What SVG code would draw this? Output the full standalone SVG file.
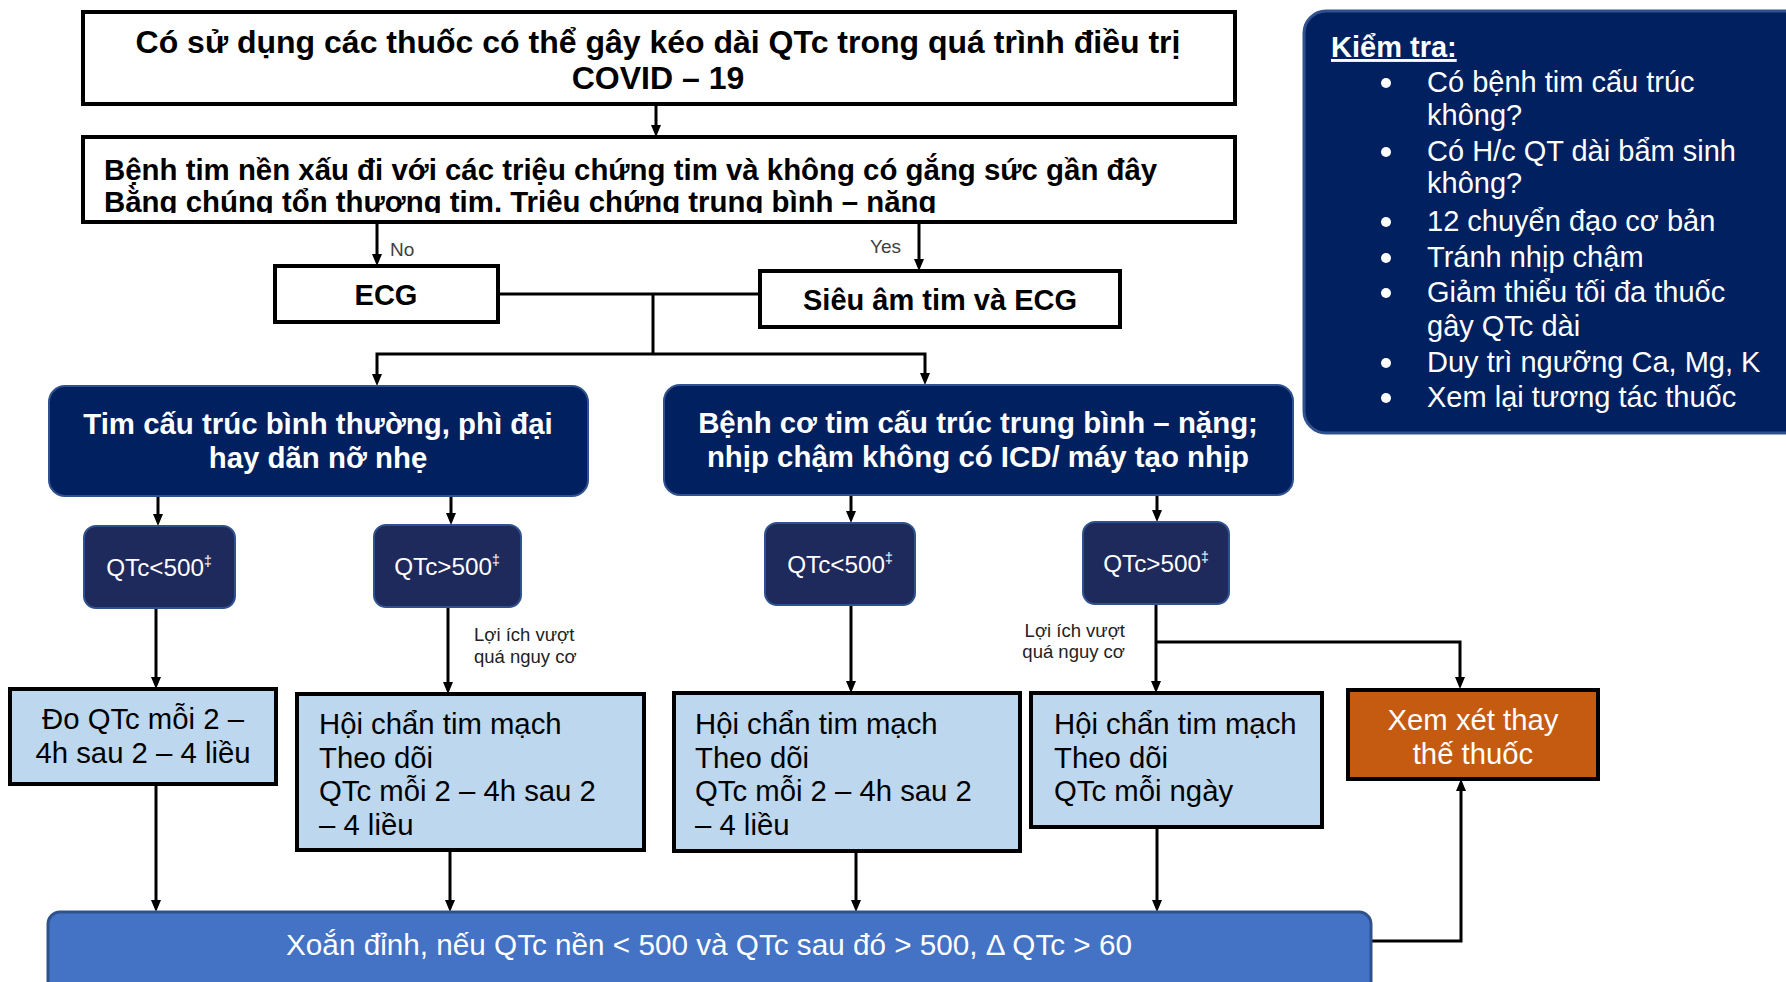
<svg xmlns="http://www.w3.org/2000/svg" width="1786" height="982" viewBox="0 0 1786 982">
<defs>
<style>
.bx{fill:#fff;stroke:#000;stroke-width:4}
.lb{fill:#BDD7EE;stroke:#000;stroke-width:4}
.nv{fill:#002060;stroke:#2F528F;stroke-width:2}
.qt{fill:#1F2A5C;stroke:#2F528F;stroke-width:2}
.tb{font-family:"Liberation Sans",Arial,sans-serif;font-weight:bold;fill:#000}
.tw{font-family:"Liberation Sans",Arial,sans-serif;font-weight:bold;fill:#fff;font-size:29.4px;text-anchor:middle}
.tr{font-family:"Liberation Sans",Arial,sans-serif;fill:#000;font-size:29.3px}
.tq{font-family:"Liberation Sans",Arial,sans-serif;fill:#fff;font-size:24.3px;text-anchor:middle}
.sm{font-family:"Liberation Sans",Arial,sans-serif;fill:#222;font-size:18.5px}
.yn{font-family:"Liberation Sans",Arial,sans-serif;fill:#404040;font-size:19px}
.kt{font-family:"Liberation Sans",Arial,sans-serif;fill:#fff;font-size:29px}
.cn{fill:none;stroke:#000;stroke-width:3}
</style>
<marker id="ah" viewBox="0 0 12 10" refX="6" refY="5" markerWidth="12" markerHeight="10" markerUnits="userSpaceOnUse" orient="auto">
<path d="M0,0 L12,5 L0,10 z" fill="#000"/>
</marker>
<clipPath id="c2"><rect x="85" y="139" width="1148" height="74"/></clipPath>
</defs>

<g id="connectors">
<path class="cn" d="M656,105 V131" marker-end="url(#ah)"/>
<path class="cn" d="M377,222 V260" marker-end="url(#ah)"/>
<path class="cn" d="M919,222 V265" marker-end="url(#ah)"/>
<path class="cn" d="M498,294 H760"/>
<path class="cn" d="M653,294 V354"/>
<path class="cn" d="M653,354 H377 V380" marker-end="url(#ah)"/>
<path class="cn" d="M653,354 H925 V379" marker-end="url(#ah)"/>
<path class="cn" d="M158,496 V520" marker-end="url(#ah)"/>
<path class="cn" d="M451,496 V519" marker-end="url(#ah)"/>
<path class="cn" d="M851,495 V517" marker-end="url(#ah)"/>
<path class="cn" d="M1157,495 V516" marker-end="url(#ah)"/>
<path class="cn" d="M156,608 V683" marker-end="url(#ah)"/>
<path class="cn" d="M448,607 V688" marker-end="url(#ah)"/>
<path class="cn" d="M851,605 V687" marker-end="url(#ah)"/>
<path class="cn" d="M1156,604 V687" marker-end="url(#ah)"/>
<path class="cn" d="M1156,642 H1460 V683" marker-end="url(#ah)"/>
<path class="cn" d="M156,784 V906" marker-end="url(#ah)"/>
<path class="cn" d="M450,850 V906" marker-end="url(#ah)"/>
<path class="cn" d="M856,851 V906" marker-end="url(#ah)"/>
<path class="cn" d="M1157,827 V906" marker-end="url(#ah)"/>
<path class="cn" d="M1371,941 H1461 V785" marker-end="url(#ah)"/>
<text class="yn" x="390" y="256">No</text>
<text class="yn" x="901" y="253" text-anchor="end">Yes</text>
<text class="sm" x="474" y="641">Lợi ích vượt</text>
<text class="sm" x="474" y="663">quá nguy cơ</text>
<text class="sm" x="1125" y="637" text-anchor="end">Lợi ích vượt</text>
<text class="sm" x="1125" y="658" text-anchor="end">quá nguy cơ</text>
</g>

<g id="n-start">
<rect class="bx" x="83" y="12" width="1152" height="92"/>
<text class="tb" font-size="32" text-anchor="middle" x="658" y="53">Có sử dụng các thuốc có thể gây kéo dài QTc trong quá trình điều trị</text>
<text class="tb" font-size="32" text-anchor="middle" x="658" y="89">COVID – 19</text>
</g>

<g id="n-symptoms">
<rect class="bx" x="83" y="137" width="1152" height="85"/>
<g clip-path="url(#c2)">
<text class="tb" font-size="29.4" x="104" y="180">Bệnh tim nền xấu đi với các triệu chứng tim và không có gắng sức gần đây</text>
<text class="tb" font-size="29.4" x="104" y="212">Bằng chúng tổn thương tim. Triệu chứng trung bình – nặng</text>
</g>
</g>

<g id="n-ecg">
<rect class="bx" x="275" y="266" width="223" height="56"/>
<text class="tb" font-size="29" text-anchor="middle" x="386" y="305">ECG</text>
</g>

<g id="n-echo">
<rect class="bx" x="760" y="271" width="360" height="56"/>
<text class="tb" font-size="29" text-anchor="middle" x="940" y="310">Siêu âm tim và ECG</text>
</g>

<g id="n-normal">
<rect class="nv" x="49" y="386" width="539" height="110" rx="16"/>
<text class="tw" x="318" y="434">Tim cấu trúc bình thường, phì đại</text>
<text class="tw" x="318" y="468">hay dãn nỡ nhẹ</text>
</g>

<g id="n-disease">
<rect class="nv" x="664" y="385" width="629" height="110" rx="16"/>
<text class="tw" x="978" y="433">Bệnh cơ tim cấu trúc trung bình – nặng;</text>
<text class="tw" x="978" y="467">nhịp chậm không có ICD/ máy tạo nhịp</text>
</g>

<g id="n-q1">
<rect class="qt" x="84" y="526" width="151" height="82" rx="12"/>
<text class="tq" x="159" y="576">QTc&lt;500<tspan font-size="14" dy="-10">‡</tspan></text>
</g>
<g id="n-q2">
<rect class="qt" x="374" y="525" width="147" height="82" rx="12"/>
<text class="tq" x="447" y="575">QTc&gt;500<tspan font-size="14" dy="-10">‡</tspan></text>
</g>
<g id="n-q3">
<rect class="qt" x="765" y="523" width="150" height="82" rx="12"/>
<text class="tq" x="840" y="573">QTc&lt;500<tspan font-size="14" dy="-10">‡</tspan></text>
</g>
<g id="n-q4">
<rect class="qt" x="1083" y="522" width="146" height="82" rx="12"/>
<text class="tq" x="1156" y="572">QTc&gt;500<tspan font-size="14" dy="-10">‡</tspan></text>
</g>

<g id="n-r1">
<rect class="lb" x="10" y="689" width="266" height="95"/>
<text class="tr" text-anchor="middle" x="143" y="729">Đo QTc mỗi 2 –</text>
<text class="tr" text-anchor="middle" x="143" y="763">4h sau 2 – 4 liều</text>
</g>

<g id="n-r2">
<rect class="lb" x="297" y="694" width="347" height="156"/>
<text class="tr" x="319" y="734">Hội chẩn tim mạch</text>
<text class="tr" x="319" y="768">Theo dõi</text>
<text class="tr" x="319" y="801">QTc mỗi 2 – 4h sau 2</text>
<text class="tr" x="319" y="835">– 4 liều</text>
</g>

<g id="n-r3">
<rect class="lb" x="674" y="693" width="346" height="158"/>
<text class="tr" x="695" y="734">Hội chẩn tim mạch</text>
<text class="tr" x="695" y="768">Theo dõi</text>
<text class="tr" x="695" y="801">QTc mỗi 2 – 4h sau 2</text>
<text class="tr" x="695" y="835">– 4 liều</text>
</g>

<g id="n-r4">
<rect class="lb" x="1031" y="693" width="291" height="134"/>
<text class="tr" x="1054" y="734">Hội chẩn tim mạch</text>
<text class="tr" x="1054" y="768">Theo dõi</text>
<text class="tr" x="1054" y="801">QTc mỗi ngày</text>
</g>

<g id="n-alt">
<rect x="1348" y="690" width="250" height="89" fill="#C55A11" stroke="#000" stroke-width="4"/>
<text class="tr" text-anchor="middle" x="1473" y="730" style="fill:#fff">Xem xét thay</text>
<text class="tr" text-anchor="middle" x="1473" y="764" style="fill:#fff">thế thuốc</text>
</g>

<g id="n-tdp">
<rect x="48" y="912" width="1323" height="100" rx="12" fill="#4472C4" stroke="#2F528F" stroke-width="3"/>
<text class="tr" text-anchor="middle" x="709" y="955" style="fill:#fff;font-size:29.7px">Xoắn đỉnh, nếu QTc nền &lt; 500 và QTc sau đó &gt; 500, Δ QTc &gt; 60</text>
</g>

<g id="n-check">
<rect x="1304" y="11" width="520" height="422" rx="22" fill="#002060" stroke="#2F528F" stroke-width="3"/>
<text class="kt" x="1331" y="57" font-weight="bold" font-size="28" text-decoration="underline">Kiểm tra:</text>
<g fill="#fff">
<circle cx="1386" cy="83" r="5"/>
<circle cx="1386" cy="152" r="5"/>
<circle cx="1386" cy="222" r="5"/>
<circle cx="1386" cy="258" r="5"/>
<circle cx="1386" cy="293" r="5"/>
<circle cx="1386" cy="363" r="5"/>
<circle cx="1386" cy="398" r="5"/>
</g>
<text class="kt" x="1427" y="92">Có bệnh tim cấu trúc</text>
<text class="kt" x="1427" y="125">không?</text>
<text class="kt" x="1427" y="161">Có H/c QT dài bẩm sinh</text>
<text class="kt" x="1427" y="193">không?</text>
<text class="kt" x="1427" y="231">12 chuyển đạo cơ bản</text>
<text class="kt" x="1427" y="267">Tránh nhịp chậm</text>
<text class="kt" x="1427" y="302">Giảm thiểu tối đa thuốc</text>
<text class="kt" x="1427" y="336">gây QTc dài</text>
<text class="kt" x="1427" y="372">Duy trì ngưỡng Ca, Mg, K</text>
<text class="kt" x="1427" y="407">Xem lại tương tác thuốc</text>
</g>
</svg>
